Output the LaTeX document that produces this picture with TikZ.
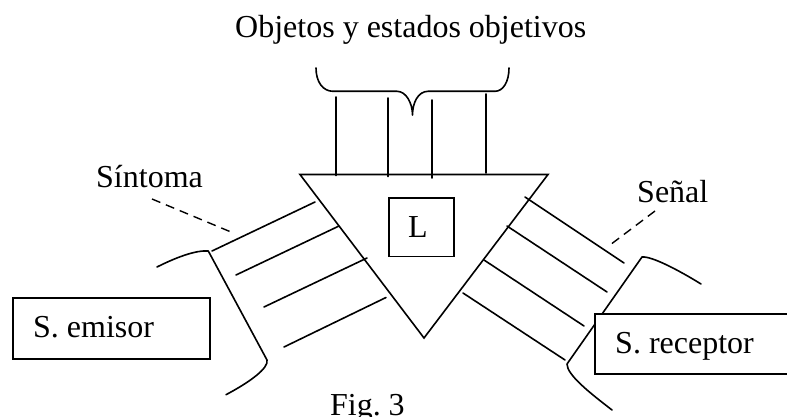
\documentclass[tikz,border=0pt]{standalone}
\usepackage{fontspec}
\setmainfont{Liberation Serif}
\tikzset{
  ink/.style={draw=black,line width=1.6pt,line cap=round,line join=round},
  dash ink/.style={draw=black,line width=1.4pt,dash pattern=on 9pt off 6pt},
  boxed/.style={draw=black,fill=white,line width=1.6pt,inner sep=0pt,anchor=north west},
  label/.style={inner sep=0pt,anchor=base west,font=\fontsize{32}{38}\selectfont}
}
\begin{document}
\begin{tikzpicture}[x=1pt,y=-1pt]
\useasboundingbox (0,0) rectangle (787,417);
\fill[white] (0,0) rectangle (787,417);
% coordinates
\coordinate (T1) at (300,174.5);
\coordinate (T2) at (548,174.5);
\coordinate (T3) at (424,338);
% triangle
\draw[ink,line join=miter] (T1) -- (T2) -- (T3) -- cycle;
% brace
\coordinate (B1) at (316,68);
\coordinate (B2) at (333,91.3);
\coordinate (B3) at (397,91.3);
\coordinate (B4) at (412.5,115);
\coordinate (B5) at (428,91.3);
\coordinate (B6) at (495,91.3);
\coordinate (B7) at (509,68);
\draw[ink] (B1) .. controls (316,82) and (323,91.3) .. (B2) -- (B3)
  .. controls (406,91.3) and (412.5,103) .. (B4)
  .. controls (412.5,103) and (418,91.3) .. (B5) -- (B6)
  .. controls (503,91.3) and (509,82) .. (B7);
% vertical lines
\foreach \n/\x/\a/\b in {1/336/97/175.5,2/388/98/176.5,3/432/100/178,4/486/94/173}{
  \coordinate (V\n a) at (\x,\a);
  \coordinate (V\n b) at (\x,\b);
  \draw[ink] (V\n a) -- (V\n b);
}
% left lines
\foreach \n/\p/\q in {1/{212,251}/{315,202},2/{236,275}/{339,226},3/{264,307}/{367,258},4/{284,347}/{386,297.5}}{
  \coordinate (LA\n) at (\p);
  \coordinate (LB\n) at (\q);
  \draw[ink] (LA\n) -- (LB\n);
}
% right lines
\foreach \n/\p/\q in {1/{525,197}/{624,263},2/{507,226}/{607,292},3/{484,260}/{584,326},4/{463,293}/{565,360}}{
  \coordinate (RA\n) at (\p);
  \coordinate (RB\n) at (\q);
  \draw[ink] (RA\n) -- (RB\n);
}
% left cup
\coordinate (LC1) at (157,267);
\coordinate (LC2) at (208.3,251);
\coordinate (LC3) at (267,360);
\coordinate (LC4) at (226,394.7);
\draw[ink] (LC1) .. controls (175,258) and (195,250) .. (LC2) -- (LC3)
  .. controls (269,368) and (250,382) .. (LC4);
% right cup
\coordinate (RC1) at (701,284);
\coordinate (RC2) at (642,257);
\coordinate (RC3) at (567,364);
\coordinate (RC4) at (612,410);
\draw[ink] (RC1) .. controls (680,271) and (652,256) .. (RC2) -- (RC3)
  .. controls (567,375) and (590,393) .. (RC4);
% dashed leaders
\coordinate (D1) at (152,199);
\coordinate (D2) at (231,232);
\coordinate (D3) at (655,211);
\coordinate (D4) at (610,245);
\draw[dash ink] (D1) -- (D2);
\draw[dash ink] (D3) -- (D4);
% boxes
\node[boxed,minimum width=197pt,minimum height=61pt] (emisor) at (12,297) {};
\node[boxed,minimum width=200pt,minimum height=60pt] (receptor) at (594,313) {};
\node[boxed,minimum width=65pt,minimum height=58.5pt] (lbox) at (388,197) {};
% texts
\node[label] (title) at (235,37.5) {Objetos y estados objetivos};
\node[label] (sint) at (96,187) {Síntoma};
\node[label] (sen) at (637,202) {Señal};
\node[label] (em) at (33,337) {S. emisor};
\node[label] (rec) at (615,353) {S. receptor};
\node[label] (l) at (408,237) {L};
\node[label] (fig) at (330,415) {Fig.\hspace{-3pt} 3};
\end{tikzpicture}
\end{document}
